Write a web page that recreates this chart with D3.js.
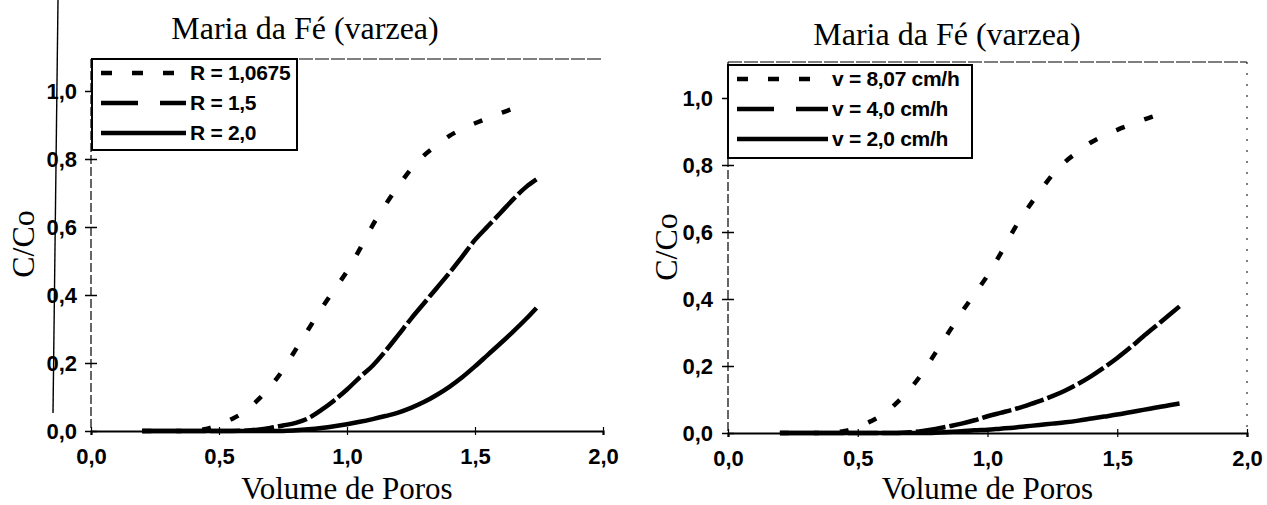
<!DOCTYPE html>
<html>
<head>
<meta charset="utf-8">
<script src="https://cdn.jsdelivr.net/npm/d3@7"></script>
<style>
  body { margin: 0; background: #fff; }
  .serif { font-family: "Liberation Serif", "Times New Roman", serif; fill: #000; }
  .leg { font-family: "Liberation Sans", Arial, sans-serif; font-weight: bold; font-size: 21px; fill: #000; letter-spacing: -0.3px; }
</style>
</head>
<body>
<div id="chart"></div>
<script>
// volume de poros grid (x) shared by every series
var volPoros = [0.20, 0.25, 0.30, 0.35, 0.40, 0.45, 0.50, 0.55, 0.60, 0.65, 0.70, 0.75, 0.80, 0.85, 0.90, 0.95,
                1.00, 1.05, 1.10, 1.15, 1.20, 1.25, 1.30, 1.35, 1.40, 1.45, 1.50, 1.55, 1.60, 1.65, 1.70, 1.74];

// left panel: retardation factor R
var r10675 = [0, 0, 0, 0, 0.002, 0.006, 0.018, 0.035, 0.057, 0.09, 0.13, 0.18, 0.24, 0.30, 0.36, 0.415,
              0.47, 0.535, 0.605, 0.665, 0.72, 0.77, 0.81, 0.84, 0.868, 0.888, 0.905, 0.92, 0.935, 0.948, 0.962, null];
var r15 = [0, 0, 0, 0, 0, 0, 0, 0, 0.001, 0.004, 0.009, 0.016, 0.024, 0.038, 0.062, 0.09,
           0.122, 0.158, 0.192, 0.235, 0.282, 0.33, 0.375, 0.42, 0.465, 0.513, 0.562, 0.602, 0.642, 0.682, 0.718, 0.74];
var r20 = [0, 0, 0, 0, 0, 0, 0, 0, 0, 0, 0, 0, 0.002, 0.005, 0.009, 0.014,
           0.02, 0.027, 0.035, 0.044, 0.054, 0.068, 0.085, 0.106, 0.13, 0.158, 0.19, 0.224, 0.258, 0.293, 0.33, 0.362];

// right panel: flow velocity v
var v807 = r10675;
var v40 = [0, 0, 0, 0, 0, 0, 0, 0, 0, 0, 0.002, 0.006, 0.012, 0.02, 0.028, 0.038,
           0.05, 0.06, 0.07, 0.082, 0.095, 0.11, 0.127, 0.147, 0.17, 0.196, 0.224, 0.255, 0.288, 0.32, 0.352, 0.378];
var v20 = [0, 0, 0, 0, 0, 0, 0, 0, 0, 0, 0, 0, 0.001, 0.003, 0.005, 0.008,
           0.01, 0.013, 0.016, 0.02, 0.024, 0.028, 0.032, 0.037, 0.043, 0.049, 0.055, 0.062, 0.069, 0.076, 0.083, 0.088];

var leftNames = ["R = 1,0675", "R = 1,5", "R = 2,0"];
var rightNames = ["v = 8,07 cm/h", "v = 4,0 cm/h", "v = 2,0 cm/h"];
var xTicks = [0, 0.5, 1.0, 1.5, 2.0];
var yTicks = [0, 0.2, 0.4, 0.6, 0.8, 1.0];

var width = 1267, height = 505;

// line styles: dotted, dashed, solid
var styles = [
    { plot: "9,21", legend: "11,20" },
    { plot: "30,4", legend: "37,22" },
    { plot: null, legend: null }
];

var svg = d3.select("#chart")
    .append("svg")
    .attr("width", width)
    .attr("height", height);

// scan artefact: page edge line on the left
svg.append("line")
    .attr("x1", 58).attr("y1", 0).attr("x2", 53).attr("y2", 413)
    .attr("stroke", "#000").attr("stroke-width", 1.4);

var fmt = function(d) { return d3.format(".1f")(d).replace(".", ","); };

function styleTicks(sel) {
    sel.selectAll(".tick text")
        .style("font-family", '"Liberation Sans", Arial, sans-serif')
        .style("font-weight", "bold")
        .style("font-size", "22px")
        .attr("fill", "#000");
}

function drawPanel(cfg) {
    var x = d3.scaleLinear().domain([0, 2]).range(cfg.xRange);
    var y = d3.scaleLinear().domain([0, 1.1]).range(cfg.yRange);
    var g = svg.append("g");

    // frame
    g.append("line")
        .attr("x1", x(0)).attr("x2", x(2)).attr("y1", cfg.top).attr("y2", cfg.top)
        .attr("stroke", "#000").attr("stroke-width", 1.2).attr("stroke-dasharray", "14,2");
    if (cfg.rightBorder) {
        g.append("line")
            .attr("x1", x(2)).attr("x2", x(2)).attr("y1", cfg.top).attr("y2", y(0))
            .attr("stroke", "#000").attr("stroke-width", 1).attr("stroke-dasharray", "2,9");
    }
    g.append("line")
        .attr("x1", x(0)).attr("x2", x(0)).attr("y1", cfg.top).attr("y2", y(0))
        .attr("stroke", "#000").attr("stroke-width", 1.2).attr("stroke-dasharray", "9,3");

    // y axis
    var ya = g.append("g")
        .attr("transform", "translate(" + x(0) + ",0)")
        .call(d3.axisLeft(y).tickValues(yTicks).tickFormat(fmt).tickSize(6));
    ya.select(".domain").remove();
    ya.selectAll(".tick line").attr("x1", 6).attr("stroke", "#000").attr("stroke-width", 1.5);
    ya.selectAll(".tick text").attr("x", cfg.yLabelOff);
    styleTicks(ya);

    // x axis
    var xa = g.append("g")
        .attr("transform", "translate(0," + y(0) + ")")
        .call(d3.axisBottom(x).tickValues(xTicks).tickFormat(fmt).tickSize(4));
    xa.select(".domain").attr("stroke", "#000").attr("stroke-width", 2.2);
    xa.selectAll(".tick line").attr("y1", -4).attr("stroke", "#000").attr("stroke-width", 1.2);
    xa.selectAll(".tick text").attr("y", 33).attr("dy", null);
    styleTicks(xa);

    // curves
    var line = d3.line()
        .defined(function(d) { return d[1] !== null; })
        .x(function(d) { return x(d[0]); })
        .y(function(d) { return y(d[1]); })
        .curve(d3.curveMonotoneX);

    cfg.series.forEach(function(s, i) {
        var pts = volPoros.map(function(v, j) { return [v, s[j]]; });
        g.append("path")
            .datum(pts)
            .attr("d", line)
            .attr("fill", "none")
            .attr("stroke", "#000")
            .attr("stroke-width", 4.5)
            .attr("stroke-dasharray", styles[i].plot);
    });

    // legend
    var lg = g.append("g").attr("transform", "translate(" + cfg.legend[0] + "," + cfg.legend[1] + ")");
    lg.append("rect")
        .attr("width", cfg.legend[2]).attr("height", cfg.legend[3])
        .attr("fill", "#fff").attr("stroke", "#000").attr("stroke-width", 2);
    cfg.names.forEach(function(n, i) {
        var ry = 14 + i * 30;
        lg.append("line")
            .attr("x1", 9).attr("x2", cfg.sampleEnd).attr("y1", ry).attr("y2", ry)
            .attr("stroke", "#000").attr("stroke-width", 4.5)
            .attr("stroke-dasharray", styles[i].legend);
        lg.append("text")
            .attr("class", "leg")
            .attr("x", cfg.sampleEnd + 4).attr("y", ry + 7)
            .text(n);
    });

    // titles
    g.append("text").attr("class", "serif")
        .attr("x", cfg.title[0]).attr("y", cfg.title[1])
        .attr("text-anchor", "middle").attr("font-size", 32)
        .text("Maria da Fé (varzea)");
    g.append("text").attr("class", "serif")
        .attr("x", (cfg.xRange[0] + cfg.xRange[1]) / 2).attr("y", 499)
        .attr("text-anchor", "middle").attr("font-size", 31)
        .text("Volume de Poros");
    g.append("text").attr("class", "serif")
        .attr("transform", "translate(" + cfg.yTitle[0] + "," + cfg.yTitle[1] + ") rotate(-90)")
        .attr("text-anchor", "middle").attr("font-size", 32)
        .text("C/Co");
}

drawPanel({
    xRange: [91, 603], yRange: [431, 57], top: 59,
    yLabelOff: -14, rightBorder: false,
    series: [r10675, r15, r20], names: leftNames,
    legend: [92, 59, 205, 91], sampleEnd: 94,
    title: [305, 39], yTitle: [34, 244]
});

drawPanel({
    xRange: [728, 1247], yRange: [433, 64.5], top: 62,
    yLabelOff: -15, rightBorder: true,
    series: [v807, v40, v20], names: rightNames,
    legend: [728, 65, 244, 93], sampleEnd: 100,
    title: [947, 45], yTitle: [677, 247]
});
</script>
</body>
</html>
